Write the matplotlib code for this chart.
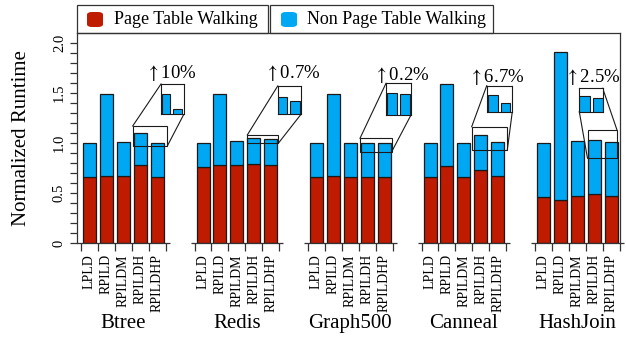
import matplotlib
matplotlib.use("Agg")
import matplotlib.pyplot as plt
from matplotlib.patches import Rectangle, FancyBboxPatch
from matplotlib.lines import Line2D
import numpy as np

plt.rcParams['font.family'] = ['Liberation Serif', 'DejaVu Serif']
plt.rcParams['mathtext.fontset'] = 'stix'

# ---- data ----
workloads = ["Btree", "Redis", "Graph500", "Canneal", "HashJoin"]
configs = ["LPLD", "RPILD", "RPILDM", "RPILDH", "RPILDHP"]
total_runtime = {
    "Btree":    [1.000, 1.490, 1.013, 1.103, 1.002],
    "Redis":    [1.000, 1.490, 1.023, 1.047, 1.036],
    "Graph500": [1.000, 1.490, 1.000, 1.005, 1.003],
    "Canneal":  [1.000, 1.590, 1.000, 1.079, 1.011],
    "HashJoin": [1.000, 1.913, 1.020, 1.035, 1.010],
}
page_walk = {
    "Btree":    [0.663, 0.670, 0.670, 0.780, 0.663],
    "Redis":    [0.763, 0.780, 0.780, 0.787, 0.780],
    "Graph500": [0.663, 0.670, 0.663, 0.663, 0.663],
    "Canneal":  [0.663, 0.770, 0.663, 0.730, 0.670],
    "HashJoin": [0.463, 0.430, 0.470, 0.490, 0.470],
}
overhead_labels = ["10%", "0.7%", "0.2%", "6.7%", "2.5%"]
legend_labels = ["Page Table Walking", "Non Page Table Walking"]

# ---- style / layout ----
RED = "#BF1B00"
BLUE = "#00A8F3"
EDGE = "#1a1a1a"
W, H = 626, 345
X_LEFT, X_RIGHT = 77, 620
first_center, group_pitch, bar_pitch, bar_width = 89.5, 113.5, 16.9, 13.0

# zoom regions (x in axis units, y in runtime) and where their insets sit
zoom_regions = [((132.7, 167.3), (0.970, 1.170)),
                ((247.3, 278.3), (0.997, 1.080)),
                ((360.0, 391.7), (0.913, 1.047)),
                ((471.7, 507.3), (0.930, 1.163)),
                ((587.5, 617.0), (0.847, 1.130))]
inset_boxes = [((161.0, 184.0), (1.290, 1.590)),
               ((277.7, 301.0), (1.287, 1.570)),
               ((386.0, 411.0), (1.280, 1.597)),
               ((486.7, 512.3), (1.313, 1.573)),
               ((579.3, 602.7), (1.313, 1.547))]
label_pos = [(171, 1.70), (293, 1.70), (402, 1.68), (497, 1.66), (593, 1.66)]

fig = plt.figure(figsize=(W / 100, H / 100), dpi=100)
ax = fig.add_axes([X_LEFT / W, (H - 243) / H, (X_RIGHT - X_LEFT) / W, 210 / H])
ax.set_xlim(X_LEFT, X_RIGHT)
ax.set_ylim(0, 2.1)


def draw_bars(a, lw):
    for g, wl in enumerate(workloads):
        xs = first_center + g * group_pitch + bar_pitch * np.arange(len(configs))
        tot = np.array(total_runtime[wl])
        ptw = np.array(page_walk[wl])
        a.bar(xs, ptw, width=bar_width, color=RED, edgecolor=EDGE, linewidth=lw)
        a.bar(xs, tot - ptw, bottom=ptw, width=bar_width, color=BLUE,
              edgecolor=EDGE, linewidth=lw)


draw_bars(ax, 0.9)

# frame: left, top, right; bottom replaced by per-group axes
for s in ("left", "top", "right"):
    ax.spines[s].set_linewidth(0.9)
    ax.spines[s].set_color("#333333")
ax.spines["bottom"].set_visible(False)

# y axis
ax.set_yticks([0, 0.5, 1.0, 1.5, 2.0])
ax.set_yticklabels(["0", "0.5", "1.0", "1.5", "2.0"], rotation=90, va="center")
ax.set_yticks(np.arange(0, 2.01, 0.1), minor=True)
ax.tick_params(axis="y", which="both", length=5, width=0.9, color="#333333",
               labelsize=10.5, pad=3)

# x axis: labels at bar centers, ticks at bar boundaries
centers, bounds = [], []
for g in range(len(workloads)):
    xs = first_center + g * group_pitch + bar_pitch * np.arange(len(configs))
    centers.extend(xs)
    b = np.concatenate([[xs[0] - bar_pitch / 2], (xs[:-1] + xs[1:]) / 2,
                        [xs[-1] + bar_pitch / 2]])
    bounds.extend(b)
    ax.plot([b[0] - 4, b[-1] + 4], [0, 0], color="#333333", lw=0.9,
            clip_on=False, solid_capstyle="butt")
    ax.annotate(workloads[g], xy=(xs.mean(), 0), xycoords="data",
                xytext=(0, -58), textcoords="offset points",
                ha="center", va="center", fontsize=15)
ax.set_xticks(centers)
ax.set_xticklabels(configs * len(workloads), rotation=90, va="top", ha="center")
ax.set_xticks(bounds, minor=True)
ax.tick_params(axis="x", which="major", length=0, labelsize=10, pad=8)
ax.tick_params(axis="x", which="minor", length=6, width=0.9, color="#333333")

# zoom boxes, insets and connectors
for (zx, zy), (ix, iy), (lx, ly), txt in zip(zoom_regions, inset_boxes,
                                              label_pos, overhead_labels):
    ax.add_patch(Rectangle((zx[0], zy[0]), zx[1] - zx[0], zy[1] - zy[0],
                           fill=False, edgecolor=EDGE, lw=0.8, zorder=5))
    if (ix[0] + ix[1]) > (zx[0] + zx[1]):
        pairs = [((zx[0], zy[1]), (ix[0], iy[1])), ((zx[1], zy[0]), (ix[1], iy[0]))]
    else:
        pairs = [((zx[1], zy[1]), (ix[1], iy[1])), ((zx[0], zy[0]), (ix[0], iy[0]))]
    for p, q in pairs:
        ax.add_line(Line2D([p[0], q[0]], [p[1], q[1]], color=EDGE, lw=0.8, zorder=5))
    ax.text(lx, ly, r"$\uparrow$" + txt, ha="center", va="center", fontsize=13.5)

    p0 = ax.transData.transform((ix[0], iy[0]))
    p1 = ax.transData.transform((ix[1], iy[1]))
    f0 = fig.transFigure.inverted().transform(p0)
    f1 = fig.transFigure.inverted().transform(p1)
    iax = fig.add_axes([f0[0], f0[1], f1[0] - f0[0], f1[1] - f0[1]])
    draw_bars(iax, 0.8)
    iax.set_xlim(*zx)
    iax.set_ylim(*zy)
    iax.set_xticks([])
    iax.set_yticks([])
    for s in iax.spines.values():
        s.set_linewidth(0.8)
        s.set_color(EDGE)

# y label
fig.text(22 / W, 1 - 138 / H, "Normalized Runtime", rotation=90,
         ha="center", va="center", fontsize=15)

# legend boxes above the frame
legend_boxes = [(77, 268, 87, 114), (270, 493, 281, 307)]
for (x0, x1, sx, tx), lab, col in zip(legend_boxes, legend_labels, [RED, BLUE]):
    fig.patches.append(Rectangle((x0 / W, 1 - 33 / H), (x1 - x0) / W, 28 / H,
                                 transform=fig.transFigure, fill=False,
                                 edgecolor="#333333", lw=0.9))
    fig.patches.append(FancyBboxPatch((sx / W, 1 - 27 / H), 16 / W, 15 / H,
                                      boxstyle="round,pad=0,rounding_size=0.008",
                                      transform=fig.transFigure,
                                      facecolor=col, edgecolor="none"))
    fig.text(tx / W, 1 - 19.5 / H, lab, ha="left", va="center", fontsize=13)

fig.savefig("out.png", dpi=100)
